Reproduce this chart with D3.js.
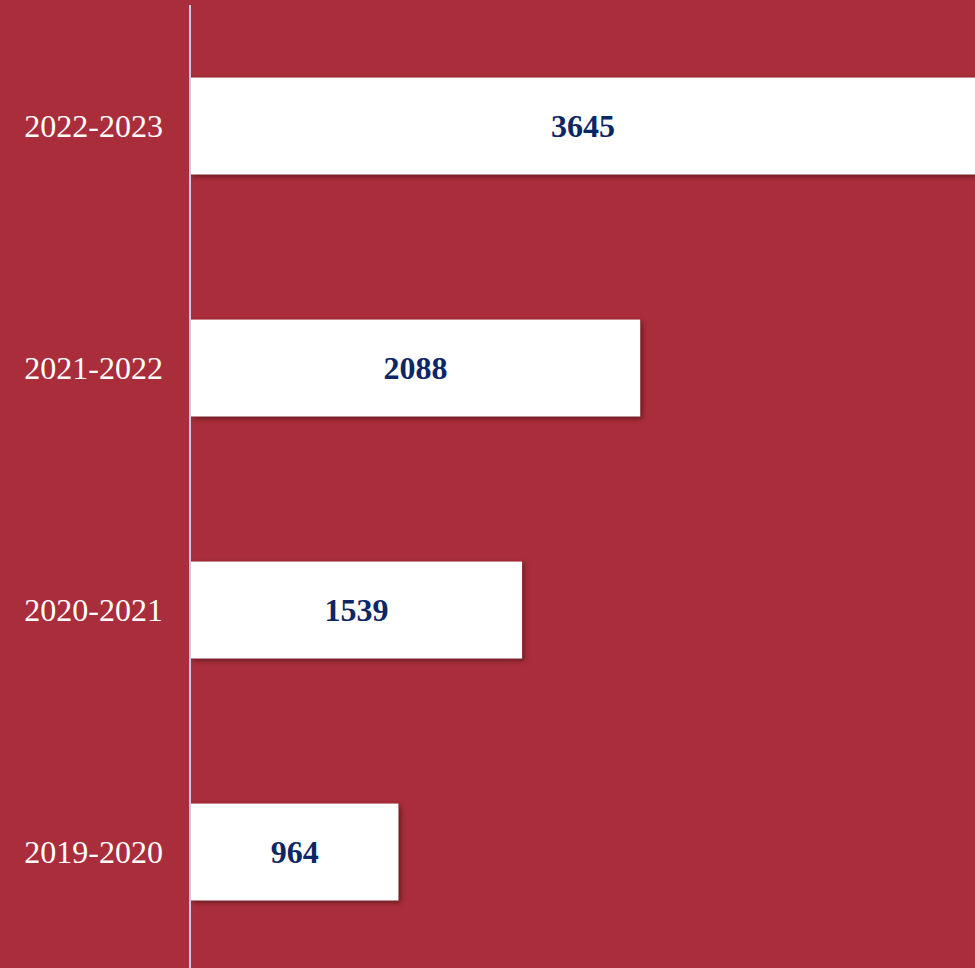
<!DOCTYPE html>
<html><head><meta charset="utf-8">
<script src="https://cdn.jsdelivr.net/npm/d3@7"></script>
<style>html,body{margin:0;padding:0;background:#A92D3A;overflow:hidden}</style>
</head><body>
<script>
const categories = ["2022-2023","2021-2022","2020-2021","2019-2020"];
const values = [3645, 2088, 1539, 964];

const W = 975, H = 968;
const svg = d3.select("body").append("svg").attr("width", W).attr("height", H);
svg.append("rect").attr("width", W).attr("height", H).attr("fill", "#A92D3A");

const defs = svg.append("defs");
const f = defs.append("filter").attr("id","sh").attr("x","-5%").attr("y","-10%").attr("width","115%").attr("height","130%");
f.append("feDropShadow").attr("dx",2).attr("dy",2).attr("stdDeviation",2.5).attr("flood-color","#000").attr("flood-opacity",0.45);

const x = d3.scaleLinear().domain([0, d3.max(values)]).range([191, 975]);
const y = d3.scaleBand().domain(categories).range([5, 973]).paddingInner(0.6).paddingOuter(0.3);

svg.selectAll("rect.bar").data(values).join("rect").attr("class","bar")
  .attr("x", x(0)).attr("y", (d,i)=>y(categories[i]))
  .attr("width", d=>x(d)-x(0)).attr("height", y.bandwidth())
  .attr("fill","#fff").attr("filter","url(#sh)");

svg.append("line").attr("x1",190).attr("x2",190).attr("y1",5).attr("y2",H)
  .attr("stroke","#C6C9E0").attr("stroke-width",2);

svg.selectAll("text.cat").data(categories).join("text").attr("class","cat")
  .attr("x",163).attr("y",d=>y(d)+y.bandwidth()/2).attr("dy","0.35em")
  .attr("text-anchor","end").attr("fill","#fff")
  .style("font-family","'Liberation Serif','Times New Roman',serif").style("font-size","32px")
  .text(d=>d);

svg.selectAll("text.val").data(values).join("text").attr("class","val")
  .attr("x",d=>(x(0)+x(d))/2).attr("y",(d,i)=>y(categories[i])+y.bandwidth()/2).attr("dy","0.35em")
  .attr("text-anchor","middle").attr("fill","#0D2765")
  .style("font-family","'Liberation Serif','Times New Roman',serif").style("font-size","32px").style("font-weight","bold")
  .text(d=>d);
</script>
</body></html>
